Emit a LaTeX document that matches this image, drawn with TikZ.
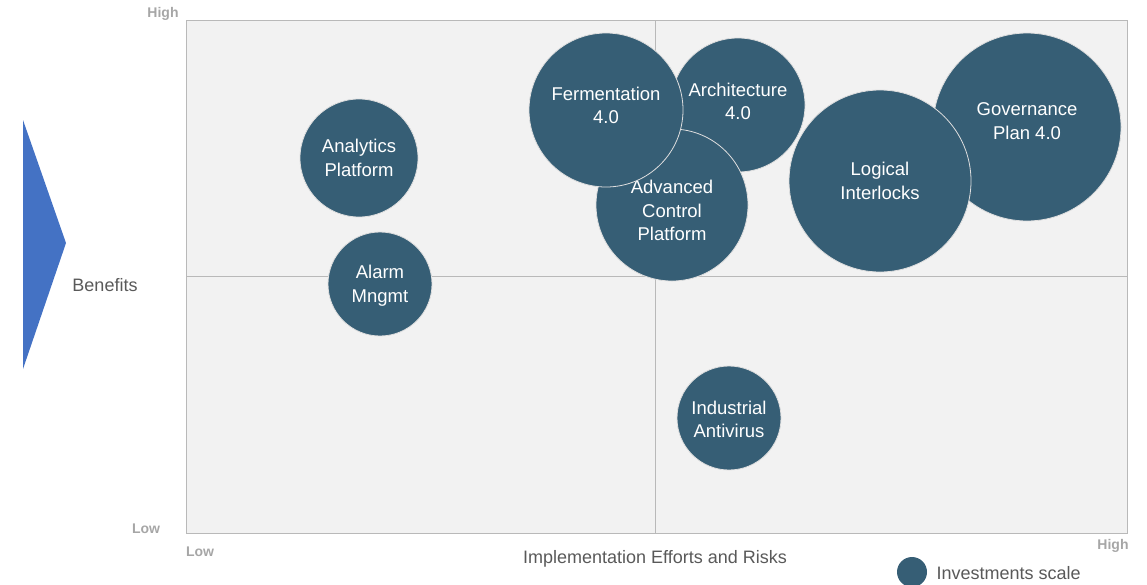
\documentclass[tikz,border=0pt]{standalone}
\usepackage{fontspec}
\setmainfont{Liberation Sans}
\definecolor{bub}{RGB}{54,94,117}
\definecolor{plotbg}{RGB}{242,242,242}
\definecolor{frame}{RGB}{185,185,185}
\definecolor{axlbl}{RGB}{166,166,166}
\definecolor{txt}{RGB}{89,89,89}
\definecolor{chev}{RGB}{68,114,196}
\begin{document}
\begin{tikzpicture}[x=1pt,y=-1pt,
  bubble/.style={circle,fill=bub,draw=white!75!gray,line width=0.8pt,inner sep=0pt,minimum size=#1},
  bubtext/.style={text=white,align=center,inner sep=0pt,font=\fontsize{18.5}{23.5}\selectfont},
  ticklbl/.style={text=axlbl,font=\fontsize{14}{16}\selectfont\bfseries},
  axtitle/.style={text=txt,font=\fontsize{18}{21}\selectfont}]
\useasboundingbox (0,0) rectangle (1147,584);
% plot area
\fill[plotbg] (186,20) rectangle (1127,533);
\draw[frame,line width=1pt] (186,20) rectangle (1127,533);
\draw[frame,line width=1pt] (655,20) -- (655,533);
\draw[frame,line width=1pt] (186,276) -- (1127,276);
% chevron
\fill[chev] (23,120) -- (66,243) -- (23,369) -- cycle;
% axis labels
\node[ticklbl] (yhigh) at (163,14) {High};
\node[ticklbl] (ylow) at (146,529) {Low};
\node[ticklbl] (xlow) at (200,552) {Low};
\node[ticklbl] (xhigh) at (1113,546) {High};
\node[axtitle] (ytitle) at (105,285) {Benefits};
\node[axtitle] (xtitle) at (655,559) {Implementation Efforts and Risks};
% bubbles
\node[bubble=118pt,label={[bubtext]center:Analytics\\Platform}] (analytics) at (359,158) {};
\node[bubble=104pt,label={[bubtext,yshift=-1.5pt]center:Alarm\\Mngmt}] (alarm) at (380,284) {};
\node[bubble=134pt,label={[bubtext,yshift=3.5pt]center:Architecture\\4.0}] (arch) at (738,105) {};
\node[bubble=152pt,label={[bubtext,yshift=-5.5pt]center:Advanced\\Control\\Platform}] (adv) at (672,205) {};
\node[bubble=154pt,label={[bubtext,yshift=4.5pt]center:Fermentation\\4.0}] (ferm) at (606,110) {};
\node[bubble=188pt,label={[bubtext,yshift=6pt]center:Governance\\Plan 4.0}] (gov) at (1027,127) {};
\node[bubble=182pt,label={[bubtext]center:Logical\\Interlocks}] (logic) at (880,181) {};
\node[bubble=104pt,label={[bubtext,yshift=-1.5pt]center:Industrial\\Antivirus}] (anti) at (729,418) {};
% legend
\node[circle,fill=bub,inner sep=0pt,minimum width=30pt,minimum height=30pt] (legdot) at (912,572) {};
\node[axtitle,anchor=west] (legtxt) at (933,573) {Investments scale};
\end{tikzpicture}
\end{document}
